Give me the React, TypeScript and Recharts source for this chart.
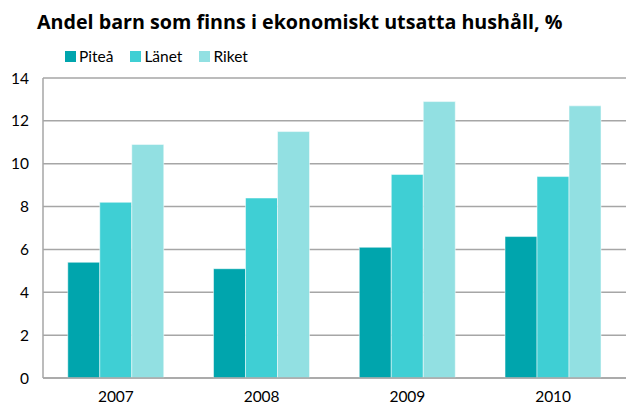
import { BarChart, Bar, XAxis, YAxis, CartesianGrid } from 'recharts';

const years = ['2007', '2008', '2009', '2010'];
const pitea = [5.4, 5.1, 6.1, 6.6];
const lanet = [8.2, 8.4, 9.5, 9.4];
const riket = [10.9, 11.5, 12.9, 12.7];
const yTicks = [0, 2, 4, 6, 8, 10, 12, 14];

const series = [
  { key: 'Piteå', color: '#00a5ad', values: pitea },
  { key: 'Länet', color: '#3fcfd4', values: lanet },
  { key: 'Riket', color: '#92e0e2', values: riket }
];

const data = years.map((year, i) => {
  const row: Record<string, string | number> = { year };
  series.forEach(s => {
    row[s.key] = s.values[i];
  });
  return row;
});

const font = '"Gill Sans", "Lato", "Open Sans", sans-serif';

export default function App() {
  return (
    <div style={{ position: 'absolute', left: 0, top: 0, width: 626, height: 407, background: '#fff', fontFamily: font }}>
      <div
        style={{
          position: 'absolute',
          left: 37,
          top: 8,
          fontSize: 19.7,
          fontFamily: '"Open Sans", sans-serif',
          fontWeight: 700,
          color: '#000',
          whiteSpace: 'nowrap',
          lineHeight: '28px'
        }}
      >
        Andel barn som finns i ekonomiskt utsatta hushåll, %
      </div>
      <div style={{ position: 'absolute', left: 65, top: 46, display: 'flex', fontSize: 15.5, lineHeight: '20px', color: '#000' }}>
        {series.map(s => (
          <div key={s.key} style={{ display: 'flex', alignItems: 'center', marginRight: 17 }}>
            <span style={{ width: 11, height: 11, background: s.color, marginRight: 3, display: 'inline-block' }} />
            <span>{s.key}</span>
          </div>
        ))}
      </div>
      <BarChart
        width={626}
        height={407}
        data={data}
        margin={{ top: 78, right: 0, left: 0, bottom: 0 }}
        barCategoryGap="17%"
        barGap={0}
      >
        <CartesianGrid vertical={false} stroke="#a6a6a6" strokeWidth={1.5} />
        <XAxis
          dataKey="year"
          height={29}
          axisLine={{ stroke: '#a6a6a6', strokeWidth: 1.5 }}
          tickLine={false}
          tick={{ fill: '#000', fontSize: 15.5, fontFamily: font }}
          dy={5}
        />
        <YAxis
          width={43}
          domain={[0, 14]}
          ticks={yTicks}
          interval={0}
          axisLine={{ stroke: '#a6a6a6', strokeWidth: 1.5 }}
          tickLine={false}
          tick={{ fill: '#000', fontSize: 15.5, fontFamily: font }}
          dx={-6}
        />
        {series.map(s => (
          <Bar
            key={s.key}
            dataKey={s.key}
            fill={s.color}
            stroke="#fff"
            strokeWidth={0.5}
            isAnimationActive={false}
          />
        ))}
      </BarChart>
    </div>
  );
}
